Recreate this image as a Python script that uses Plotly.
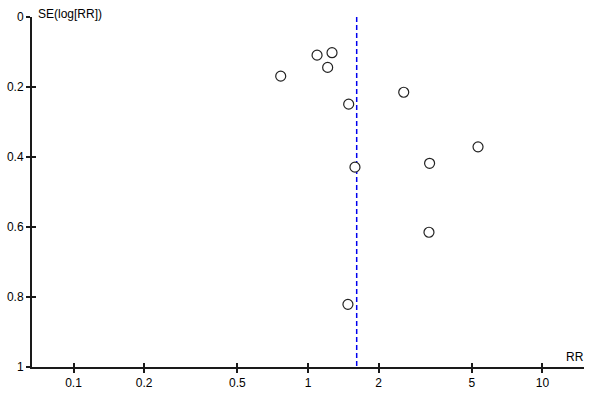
import plotly.graph_objects as go

# funnel plot data: risk ratio and standard error of log(RR)
rr = [0.765, 1.093, 1.266, 1.213, 1.491, 2.56, 5.31, 1.586, 3.30, 3.28, 1.48]
se = [0.169, 0.109, 0.102, 0.144, 0.249, 0.215, 0.371, 0.429, 0.418, 0.615, 0.821]
pooled_rr = 1.613
x_ticks = [0.1, 0.2, 0.5, 1, 2, 5, 10]
x_labels = ["0.1", "0.2", "0.5", "1", "2", "5", "10"]
y_ticks = [0, 0.2, 0.4, 0.6, 0.8, 1]
y_labels = ["0", "0.2", "0.4", "0.6", "0.8", "1"]

xr = [-1.177, 1.177]
font = dict(family="Liberation Sans, Arial", size=12, color="black")

fig = go.Figure()
fig.add_trace(go.Scatter(
    x=[pooled_rr, pooled_rr], y=[0, 1], mode="lines",
    line=dict(color="#0000ee", width=1.5, dash="5px,3px"),
    hoverinfo="skip"))
fig.add_trace(go.Scatter(
    x=rr, y=se, mode="markers",
    marker=dict(size=10, color="white", line=dict(color="#222222", width=1.2))))
# invisible trace so the inner-tick overlay axes get drawn
fig.add_trace(go.Scatter(x=[1], y=[0.5], xaxis="x2", yaxis="y2",
                         mode="markers", marker=dict(opacity=0),
                         hoverinfo="skip"))

common = dict(showgrid=False, zeroline=False, showline=True,
              linecolor="#1a1a1a", linewidth=2, tickcolor="#1a1a1a",
              ticklen=4, tickwidth=2, automargin=False)
fig.update_layout(
    width=600, height=400,
    margin=dict(l=32, r=16, t=17, b=33),
    paper_bgcolor="white", plot_bgcolor="white",
    showlegend=False, font=font,
    xaxis=dict(type="log", range=xr, tickvals=x_ticks, ticktext=x_labels,
               ticks="outside", tickfont=font, **common),
    yaxis=dict(range=[1, 0], tickvals=y_ticks, ticktext=y_labels,
               ticks="outside", tickfont=font, **common),
    xaxis2=dict(type="log", range=xr, tickvals=x_ticks, overlaying="x",
                anchor="y2", side="bottom", ticks="inside",
                showticklabels=False, **common),
    yaxis2=dict(range=[1, 0], tickvals=y_ticks, overlaying="y",
                anchor="x2", side="left", ticks="inside",
                showticklabels=False, **common),
)
fig.add_annotation(text="SE(log[RR])", xref="paper", yref="paper",
                   x=0, y=1, xanchor="left", yanchor="bottom", xshift=4,
                   yshift=-6, showarrow=False, font=font)
fig.add_annotation(text="RR", xref="paper", yref="paper",
                   x=1, y=0, xanchor="right", yanchor="bottom", xshift=2,
                   yshift=1, showarrow=False, font=font)
fig.write_html("out.html", config={"displayModeBar": False},
               post_script="document.body.style.margin='0';")
